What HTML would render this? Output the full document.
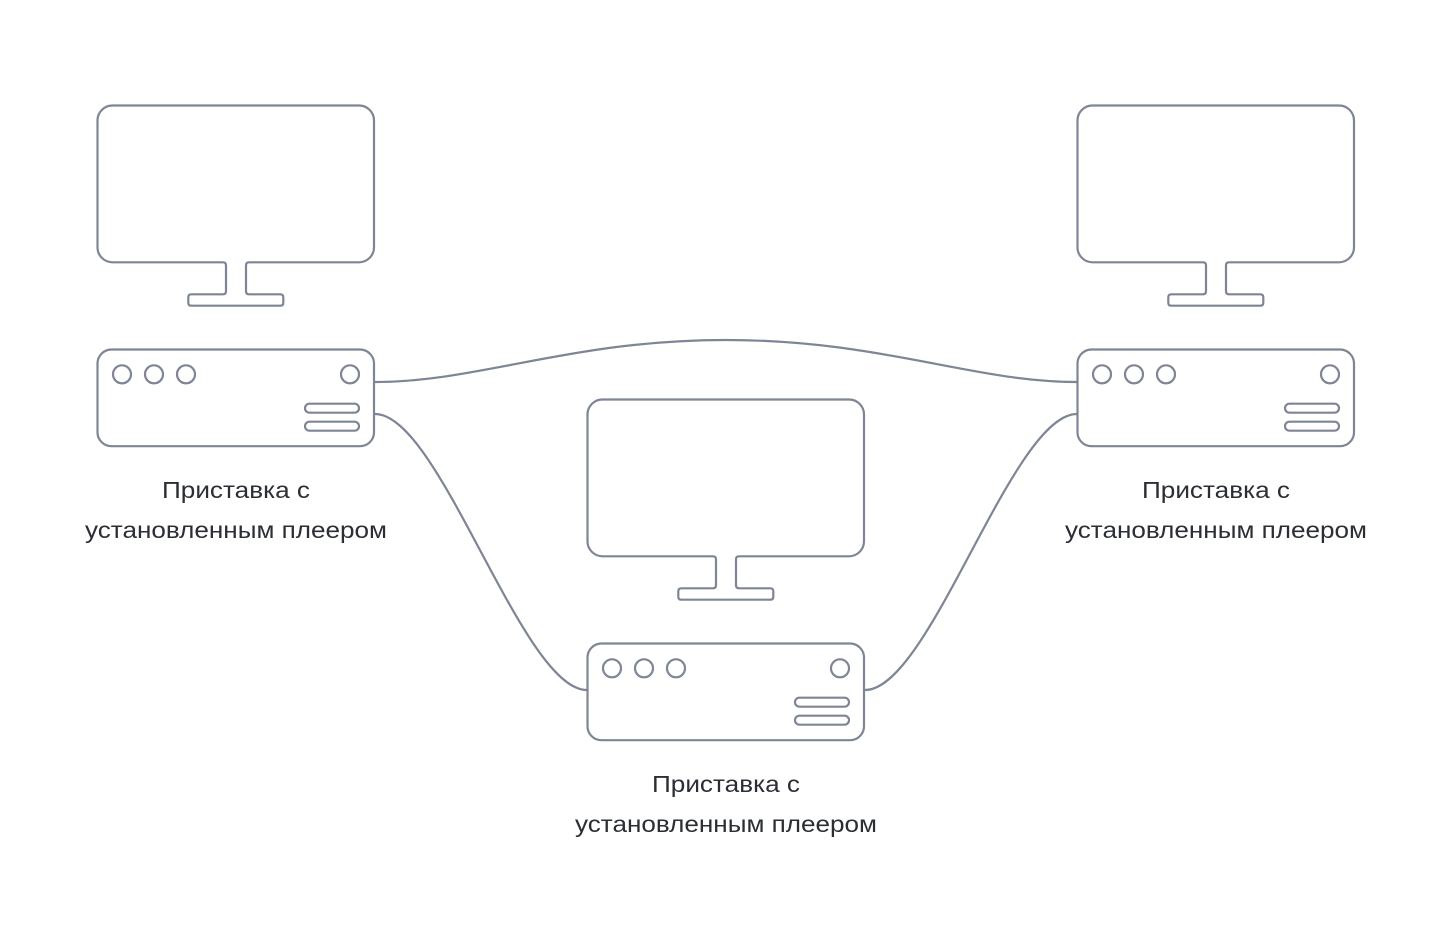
<!DOCTYPE html>
<html>
<head>
<meta charset="utf-8">
<style>
  html,body{margin:0;padding:0;background:#ffffff;}
  svg{display:block;}
  text{font-family:"Liberation Sans","DejaVu Sans",sans-serif;font-size:23px;fill:#2b2e35;}
</style>
</head>
<body>
<svg width="1456" height="944" viewBox="0 0 1456 944" xmlns="http://www.w3.org/2000/svg">
  <defs>
    <g id="monitor">
      <path d="M112.5 105.5 H359 A15 15 0 0 1 374 120.5 V247.3 A15 15 0 0 1 359 262.3 H249 q-3 0 -3 3 V291.3 q0 3 3 3 H280.3 q3 0 3 3 V302.7 q0 3 -3 3 H191.3 q-3 0 -3 -3 V297.3 q0 -3 3 -3 H223 q3 0 3 -3 V265.3 q0 -3 -3 -3 H112.5 A15 15 0 0 1 97.5 247.3 V120.5 A15 15 0 0 1 112.5 105.5 Z"/>
    </g>
    <g id="box">
      <rect x="97.5" y="349.5" width="276.5" height="96.7" rx="14" ry="14"/>
      <circle cx="122" cy="374.3" r="9"/>
      <circle cx="154" cy="374.3" r="9"/>
      <circle cx="186" cy="374.3" r="9"/>
      <circle cx="350" cy="374.3" r="9"/>
      <rect x="305" y="403.7" width="54" height="9" rx="4.5" ry="4.5"/>
      <rect x="305" y="421.7" width="54" height="9" rx="4.5" ry="4.5"/>
    </g>
  </defs>

  <g fill="none" stroke="#7e8594" stroke-width="2.2">
    <path d="M375 382 C480 382 570 340 726 340 S972 382 1077 382"/>
    <path d="M375 414 C440 414 522 690 587 690"/>
    <path d="M865 690 C930 690 1012 414 1077 414"/>

    <use href="#monitor"/>
    <use href="#box"/>
    <use href="#monitor" transform="translate(980,0)"/>
    <use href="#box" transform="translate(980,0)"/>
    <use href="#monitor" transform="translate(490,294)"/>
    <use href="#box" transform="translate(490,294)"/>
  </g>

  <g text-anchor="middle">
    <text x="236" y="498" textLength="148" lengthAdjust="spacingAndGlyphs">Приставка с</text>
    <text x="236" y="538" textLength="302" lengthAdjust="spacingAndGlyphs">установленным плеером</text>

    <text x="1216" y="498" textLength="148" lengthAdjust="spacingAndGlyphs">Приставка с</text>
    <text x="1216" y="538" textLength="302" lengthAdjust="spacingAndGlyphs">установленным плеером</text>

    <text x="726" y="792" textLength="148" lengthAdjust="spacingAndGlyphs">Приставка с</text>
    <text x="726" y="832" textLength="302" lengthAdjust="spacingAndGlyphs">установленным плеером</text>
  </g>
</svg>
</body>
</html>
